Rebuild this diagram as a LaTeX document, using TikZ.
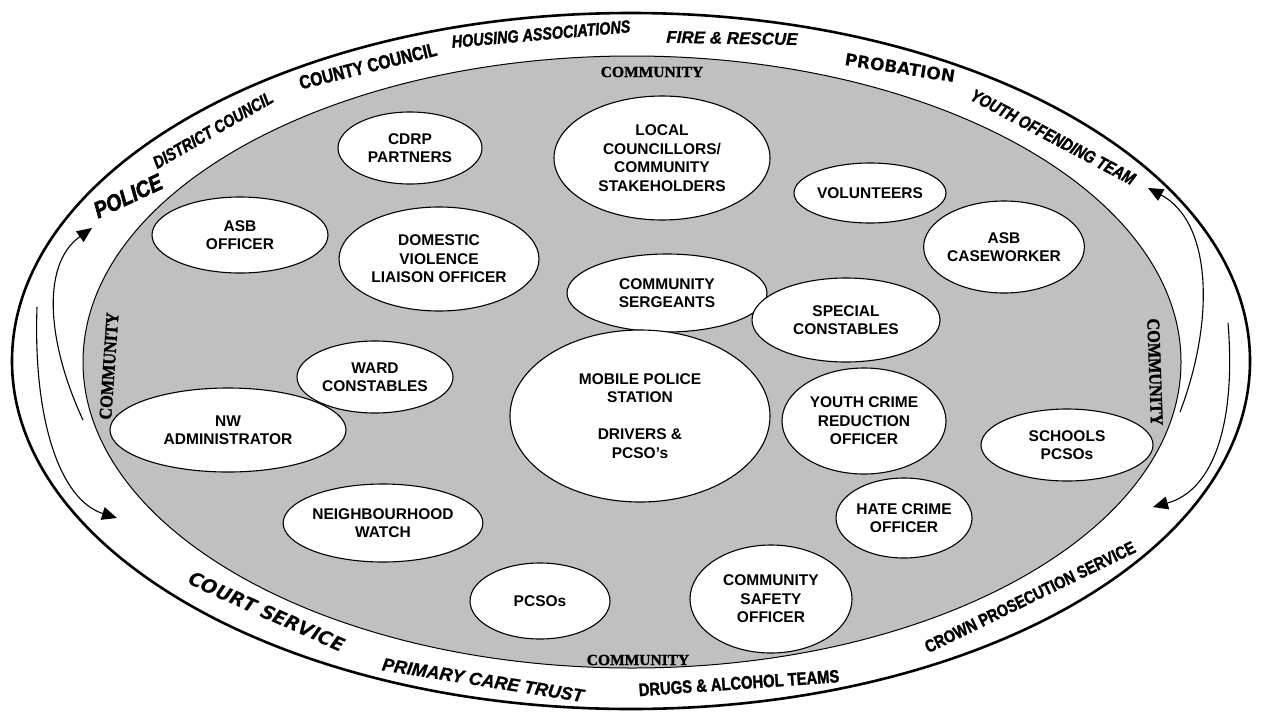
\documentclass[tikz,border=0pt]{standalone}
\usepackage{fontspec}
\setmainfont{Liberation Sans}
\newfontfamily\narrowb[FakeStretch=0.82,FakeBold=1.6]{Liberation Sans Bold}
\newfontfamily\narrowbi[FakeStretch=0.82,FakeBold=1.6]{Liberation Sans Bold Italic}
\newfontfamily\policef[FakeStretch=0.85,FakeBold=2.2]{Liberation Sans Bold Italic}
\newfontfamily\sansbi[FakeBold=0.8]{Liberation Sans Bold Italic}
\newfontfamily\serifb[FakeBold=1.2]{Liberation Serif Bold}
\newfontfamily\serifside[FakeStretch=0.9,FakeBold=1.6]{Liberation Serif Bold}
\newfontfamily\heavyb{DejaVu Sans Bold}
\newfontfamily\heavybi{DejaVu Sans Bold Oblique}
\usetikzlibrary{shapes.geometric,arrows.meta}
\definecolor{silverfill}{RGB}{192,192,192}
\begin{document}
\begin{tikzpicture}[x=1pt,y=-1pt,
  bub/.style={ellipse, draw, line width=1.1pt, fill=white, inner sep=0pt, align=center,
    font=\bfseries\fontsize{15.5}{18.5}\selectfont},
  ringn/.style={inner sep=0pt, font=\narrowb\fontsize{17.5}{19}\selectfont},
  ringni/.style={inner sep=0pt, font=\narrowbi\fontsize{17.5}{19}\selectfont},
  ringi/.style={inner sep=0pt, font=\sansbi\fontsize{17}{19}\selectfont},
  ringh/.style={inner sep=0pt, font=\heavyb\fontsize{17}{19}\selectfont},
  comm/.style={inner sep=0pt, font=\serifb\fontsize{15.5}{17}\selectfont},
  commside/.style={inner sep=0pt, font=\serifside\fontsize{18}{19}\selectfont},
  flow/.style={line width=1.1pt, -{Triangle[length=15pt,width=13pt]}}]
\useasboundingbox (0,0) rectangle (1263,715);
% rings
\draw[line width=2.6pt] (631,361) ellipse [x radius=619, y radius=348];
\draw[line width=1pt, fill=silverfill] (632,362) ellipse [x radius=549, y radius=306];
% ring labels
\node[inner sep=0pt, font=\policef\fontsize{23}{25}\selectfont, rotate=25] (police) at (128,196) {POLICE};
\node[ringni, rotate=30] (district) at (213,130) {DISTRICT COUNCIL};
\node[ringn, font=\narrowb\fontsize{19}{21}\selectfont, rotate=14] (county) at (368,66) {COUNTY COUNCIL};
\node[ringni, rotate=5] (housing) at (541,34) {HOUSING ASSOCIATIONS};
\node[ringi, rotate=-1] (fire) at (732,38) {FIRE \& RESCUE};
\node[ringh, rotate=-9] (probation) at (900,68) {PROBATION};
\node[ringni, rotate=-28] (yot) at (1053,137) {YOUTH OFFENDING TEAM};
\node[ringn, rotate=26] (cps) at (1030,597) {CROWN PROSECUTION SERVICE};
\node[ringn, font=\narrowb\fontsize{18}{20}\selectfont, rotate=4] (drugs) at (739,683) {DRUGS \& ALCOHOL TEAMS};
\node[ringi, font=\sansbi\fontsize{18}{20}\selectfont, rotate=-9] (pct) at (483,680) {PRIMARY CARE TRUST};
\node[ringh, font=\heavybi\fontsize{19}{21}\selectfont, rotate=-24] (court) at (267,612) {COURT SERVICE};
% community labels
\node[comm] (commtop) at (652,72) {COMMUNITY};
\node[comm] (commbot) at (638,660) {COMMUNITY};
\node[commside, rotate=86] (commleft) at (109,366) {COMMUNITY};
\node[commside, rotate=-88] (commright) at (1155,372) {COMMUNITY};
% bubbles
\node[bub, minimum width=176pt, minimum height=76pt] (asbo) at (240,235) {ASB\\OFFICER};
\node[bub, minimum width=144pt, minimum height=72pt] (cdrp) at (410,148) {CDRP\\PARTNERS};
\node[bub, minimum width=216pt, minimum height=124pt] (local) at (662,158) {LOCAL\\COUNCILLORS/\\COMMUNITY\\STAKEHOLDERS};
\node[bub, minimum width=152pt, minimum height=60pt] (vol) at (870,193) {VOLUNTEERS};
\node[bub, minimum width=200pt, minimum height=104pt] (dv) at (439,259) {DOMESTIC\\VIOLENCE\\LIAISON OFFICER};
\node[bub, minimum width=200pt, minimum height=78pt] (sgt) at (667,293) {COMMUNITY\\SERGEANTS};
\node[bub, minimum width=160pt, minimum height=92pt] (asbc) at (1004,247) {ASB\\CASEWORKER};
\node[bub, minimum width=188pt, minimum height=84pt] (spec) at (846,320) {SPECIAL\\CONSTABLES};
\node[bub, minimum width=156pt, minimum height=72pt] (ward) at (375,377) {WARD\\CONSTABLES};
\node[bub, minimum width=236pt, minimum height=84pt] (nw) at (228,430) {NW\\ADMINISTRATOR};
\node[bub, minimum width=260pt, minimum height=172pt] (mobile) at (640,416) {MOBILE POLICE\\STATION\\[18.5pt]DRIVERS \&\\PCSO’s};
\node[bub, minimum width=164pt, minimum height=106pt] (youth) at (864,421) {YOUTH CRIME\\REDUCTION\\OFFICER};
\node[bub, minimum width=172pt, minimum height=72pt] (schools) at (1067,445) {SCHOOLS\\PCSOs};
\node[bub, minimum width=172pt, minimum height=78pt] (nhw) at (383,523) {NEIGHBOURHOOD\\WATCH};
\node[bub, minimum width=136pt, minimum height=80pt] (hate) at (904,518) {HATE CRIME\\OFFICER};
\node[bub, minimum width=140pt, minimum height=76pt] (pcsos) at (540,601) {PCSOs};
\node[bub, minimum width=162pt, minimum height=108pt] (cso) at (771,599) {COMMUNITY\\SAFETY\\OFFICER};
% flow arrows
\coordinate (la1) at (83,420); \coordinate (la2) at (92,228);
\coordinate (lb1) at (37,307); \coordinate (lb2) at (117,518);
\coordinate (ra1) at (1180,412); \coordinate (ra2) at (1148,188);
\coordinate (rb1) at (1228,323); \coordinate (rb2) at (1153,507);
\draw[flow] (la1) .. controls (48,345) and (40,265) .. (la2);
\draw[flow] (lb1) .. controls (33,420) and (60,500) .. (lb2);
\draw[flow] (ra1) .. controls (1215,320) and (1212,222) .. (ra2);
\draw[flow] (rb1) .. controls (1236,420) and (1215,490) .. (rb2);
\end{tikzpicture}
\end{document}
